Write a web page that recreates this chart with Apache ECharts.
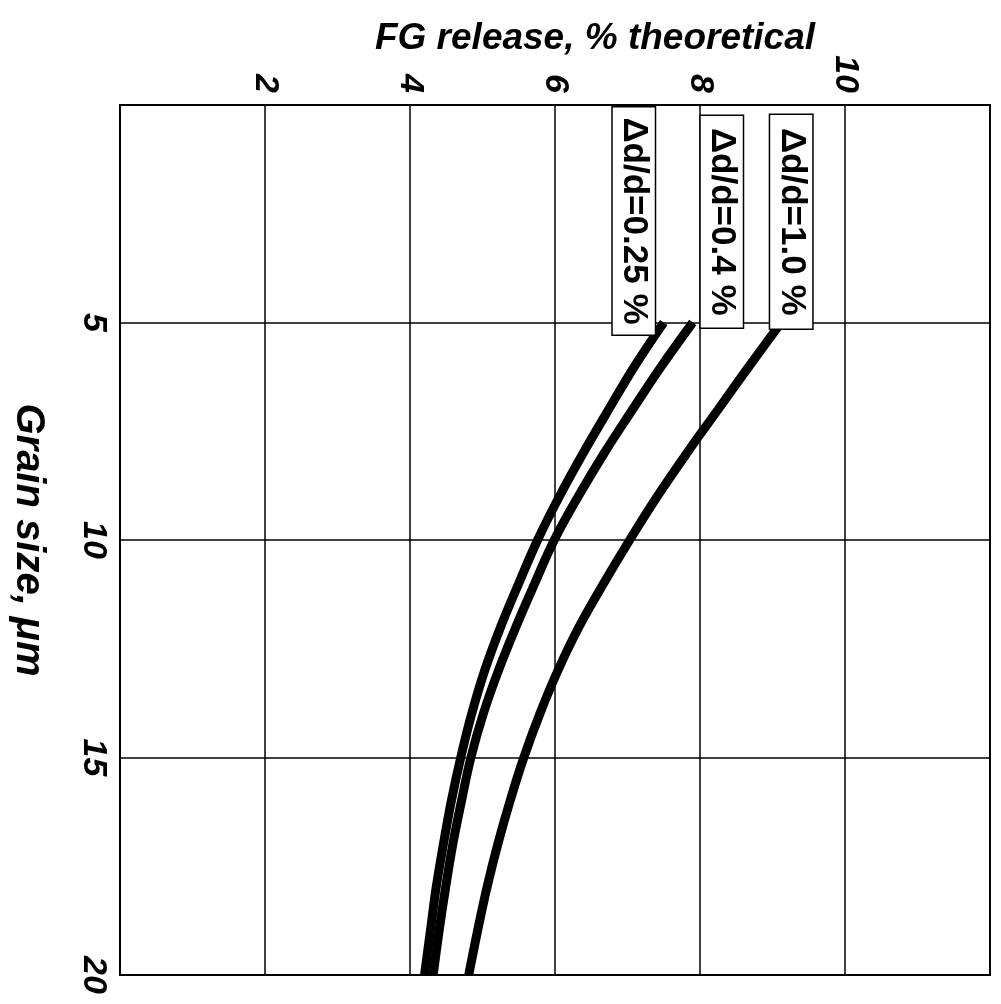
<!DOCTYPE html>
<html>
<head>
<meta charset="utf-8">
<script src="https://cdn.jsdelivr.net/npm/echarts@6.0.0/dist/echarts.min.js"></script>
<style>
  html, body { margin: 0; padding: 0; background: #fff; }
  #chart { width: 1001px; height: 1004px; }
</style>
</head>
<body>
<div id="chart"></div>
<script>
// Grain size (µm) at which each curve is sampled
const grainSize = [5, 6, 7, 8, 9, 10, 11, 12, 13, 14, 15, 16, 17, 18, 19, 20];

// Fission-gas release, % of theoretical, for each relative grain-size spread
const fgRelease025 = [7.50, 7.10, 6.74, 6.39, 6.06, 5.76, 5.50, 5.25, 5.03, 4.85, 4.70, 4.57, 4.46, 4.36, 4.28, 4.20];
const fgRelease04  = [7.90, 7.47, 7.07, 6.68, 6.32, 5.99, 5.72, 5.46, 5.22, 5.01, 4.84, 4.71, 4.59, 4.49, 4.40, 4.32];
const fgRelease10  = [9.12, 8.68, 8.25, 7.82, 7.41, 7.03, 6.67, 6.33, 6.04, 5.79, 5.57, 5.38, 5.21, 5.06, 4.93, 4.81];

const curveNames = ['Δd/d=0.25 %', 'Δd/d=0.4 %', 'Δd/d=1.0 %'];

// Tick labels
const fgTicks = [2, 4, 6, 8, 10];
const grainTicks = [5, 10, 15, 20];

const FONT = '"Liberation Sans", Arial, sans-serif';

// Tag box placement relative to each curve's first point (text-local frame)
const tagOffsets = [[12, 30], [5, -29], [6, -10]];
const tagPadding = [[3, 10, 3, 10], [3, 12, 3, 12], [3, 13, 3, 13]];

const curves = [fgRelease025, fgRelease04, fgRelease10];

function buildSeries(values, k) {
  return {
    type: 'line',
    name: curveNames[k],
    smooth: 0.4,
    symbol: 'circle',
    symbolSize: 0,
    showSymbol: true,
    clip: false,
    lineStyle: { color: '#000', width: 9 },
    itemStyle: { color: '#000' },
    label: { show: false },
    emphasis: { disabled: true },
    data: values.map((v, i) => {
      if (i !== 0) return [v, grainSize[i]];
      return {
        value: [v, grainSize[i]],
        label: {
          show: true,
          formatter: curveNames[k],
          position: 'inside',
          rotate: -90,
          align: 'right',
          verticalAlign: 'middle',
          offset: tagOffsets[k],
          fontFamily: FONT,
          fontSize: 35,
          fontWeight: 'bold',
          lineHeight: 36,
          color: '#000',
          backgroundColor: '#fff',
          borderColor: '#000',
          borderWidth: 1.5,
          padding: tagPadding[k]
        }
      };
    })
  };
}

const chart = echarts.init(document.getElementById('chart'), null, { renderer: 'canvas' });

chart.setOption({
  animation: false,
  backgroundColor: '#fff',
  grid: {
    left: 120, top: 105, width: 870, height: 870,
    show: true, borderColor: '#000', borderWidth: 2,
    containLabel: false, outerBoundsMode: 'none'
  },
  xAxis: {
    type: 'value',
    position: 'top',
    min: 0, max: 12, interval: 2,
    name: 'FG release, % theoretical',
    nameLocation: 'middle',
    nameGap: 48,
    nameMoveOverlap: false,
    nameTextStyle: {
      fontFamily: FONT, fontSize: 37, fontStyle: 'italic', fontWeight: 'bold',
      color: '#000', padding: [0, 0, 0, 80]
    },
    axisLine: { show: true, lineStyle: { color: '#000', width: 2 } },
    axisTick: { show: false },
    splitLine: { show: true, lineStyle: { color: '#000', width: 1.5 } },
    axisLabel: {
      rotate: -90,
      margin: 12,
      fontFamily: FONT, fontSize: 34, fontStyle: 'italic', fontWeight: 'bold', color: '#000',
      formatter: v => (fgTicks.includes(v) ? String(v) : '')
    }
  },
  yAxis: {
    type: 'value',
    inverse: true,
    min: 0, max: 20, interval: 5,
    name: 'Grain size, μm',
    nameLocation: 'middle',
    nameRotate: -90,
    nameGap: 72,
    nameMoveOverlap: false,
    nameTextStyle: {
      fontFamily: FONT, fontSize: 40, fontStyle: 'italic', fontWeight: 'bold', color: '#000'
    },
    axisLine: { show: true, lineStyle: { color: '#000', width: 2 } },
    axisTick: { show: false },
    splitLine: { show: true, lineStyle: { color: '#000', width: 1.5 } },
    axisLabel: {
      rotate: -90,
      margin: 10,
      showMaxLabel: true,
      fontFamily: FONT, fontSize: 34, fontStyle: 'italic', fontWeight: 'bold', color: '#000',
      formatter: v => (grainTicks.includes(v) ? String(v) : '')
    }
  },
  series: curves.map(buildSeries)
});
</script>
</body>
</html>
